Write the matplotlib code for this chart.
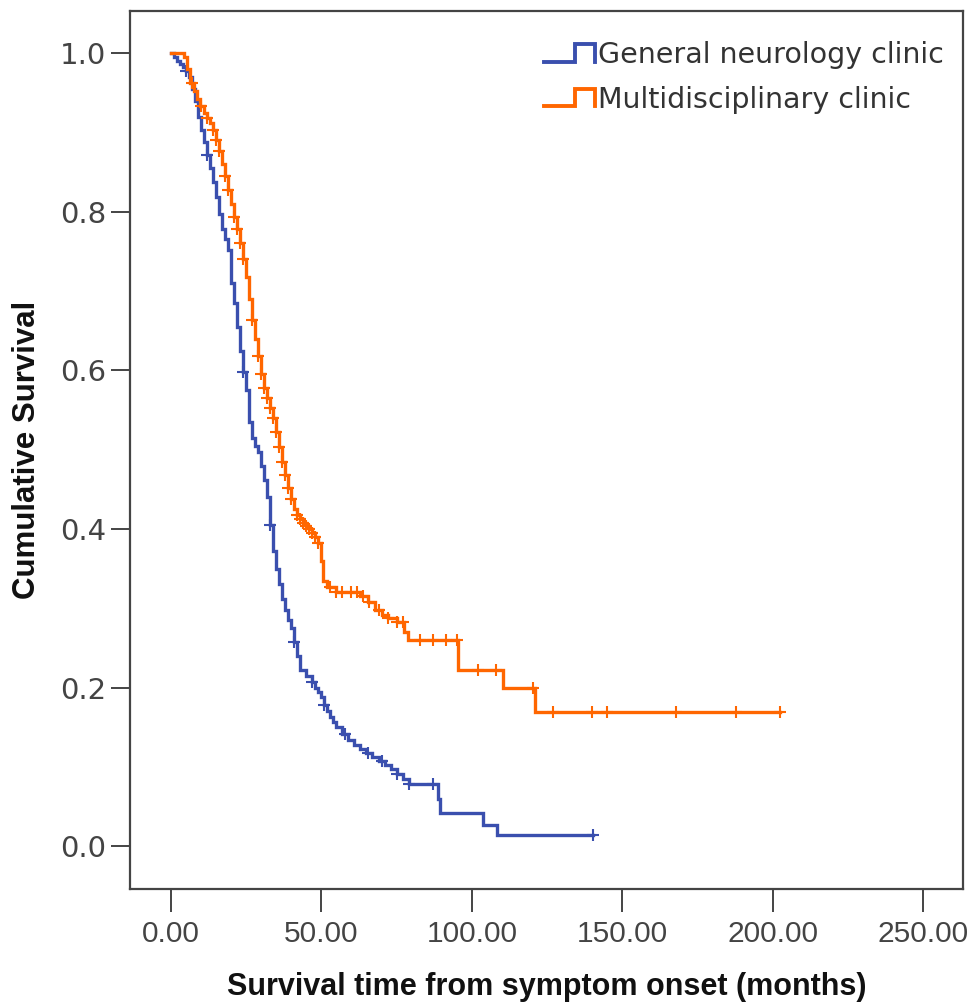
"""Kaplan-Meier style survival curves: general neurology vs multidisciplinary clinic."""
import matplotlib
matplotlib.use('Agg')
import matplotlib.pyplot as plt
import numpy as np
from matplotlib.legend_handler import HandlerBase
from matplotlib.lines import Line2D

# --- data (months, cumulative survival after each drop) ---
gen_times = [0, 1, 2, 3, 4, 5, 6, 7, 8, 9, 10, 11, 12, 13, 14, 15, 16, 17, 18, 19,
             20, 21, 22, 23, 24, 25, 26, 27, 28, 29, 30, 31, 32, 33, 34, 35, 36, 37,
             38, 39, 40, 41, 42, 43, 45, 47, 48, 49, 50, 51, 52, 53, 54, 55, 57, 59,
             61, 63, 65, 67, 69, 71, 73, 75, 77, 79, 88.8, 89.5, 103.7, 108.4]
gen_surv = [1.0, 0.995, 0.99, 0.986, 0.982, 0.977, 0.97, 0.955, 0.94, 0.92, 0.903,
            0.888, 0.872, 0.855, 0.837, 0.818, 0.797, 0.778, 0.765, 0.752, 0.71,
            0.685, 0.655, 0.625, 0.598, 0.575, 0.535, 0.515, 0.505, 0.497, 0.48,
            0.462, 0.44, 0.405, 0.372, 0.35, 0.33, 0.312, 0.298, 0.285, 0.275,
            0.258, 0.24, 0.222, 0.214, 0.207, 0.2, 0.195, 0.188, 0.178, 0.17, 0.163,
            0.156, 0.15, 0.141, 0.134, 0.127, 0.122, 0.117, 0.112, 0.108, 0.103,
            0.097, 0.091, 0.085, 0.078, 0.059, 0.042, 0.027, 0.014]
gen_end = 140.3
gen_censor = [5, 12, 24, 33, 41, 47, 51, 58, 65.5, 70, 75, 79, 87, 140.3]

mdc_times = [0, 4.5, 5.5, 6.5, 7.5, 8.5, 9.5, 11, 12, 13, 14, 15, 16, 17, 18, 19,
             20, 21, 22, 23, 24, 25, 26, 27, 28, 29, 30, 31, 32, 33, 34, 35, 36, 37,
             38, 39, 40, 41, 42, 43, 44, 45, 46, 47, 48, 49, 50, 50.5, 52, 55, 63,
             65.5, 68, 70, 72, 75, 77.5, 78.8, 95.4, 110.4, 121]
mdc_surv = [1.0, 0.995, 0.98, 0.962, 0.952, 0.942, 0.933, 0.925, 0.918, 0.912,
            0.903, 0.89, 0.877, 0.86, 0.845, 0.828, 0.81, 0.793, 0.778, 0.76, 0.74,
            0.718, 0.69, 0.663, 0.64, 0.618, 0.596, 0.578, 0.565, 0.553, 0.54,
            0.522, 0.503, 0.485, 0.468, 0.452, 0.438, 0.425, 0.418, 0.413, 0.408,
            0.404, 0.4, 0.395, 0.39, 0.382, 0.36, 0.335, 0.327, 0.32, 0.315, 0.308,
            0.298, 0.292, 0.288, 0.283, 0.27, 0.26, 0.222, 0.199, 0.169]
mdc_end = 202.5
mdc_censor = [7, 10, 12, 14, 15, 16, 18, 19, 21, 22, 23, 24, 27, 29, 30, 31, 32, 33,
              34, 35, 36, 37, 38, 39, 40, 42, 43, 44, 45, 46, 47, 48, 49, 53, 55, 57,
              60, 62, 64, 66, 69, 72, 75, 77, 82.8, 87.1, 91.4, 95.0, 102, 108,
              120.5, 127, 140, 145, 168, 188, 202.5]

labels = ['General neurology clinic', 'Multidisciplinary clinic']
colors = ['#3a4fae', '#ff6600']
x_ticks = [0, 50, 100, 150, 200, 250]
y_ticks = [0.0, 0.2, 0.4, 0.6, 0.8, 1.0]


class StepHandler(HandlerBase):
    """legend handle drawn as a little step pulse, like SPSS does"""
    def create_artists(self, legend, orig_handle, xdescent, ydescent, width, height,
                       fontsize, trans):
        x0, y0 = -xdescent, -ydescent
        xs = [x0, x0 + 0.6 * width, x0 + 0.6 * width, x0 + width, x0 + width]
        ys = [y0 + 0.1 * height, y0 + 0.1 * height, y0 + 0.9 * height,
              y0 + 0.9 * height, y0 + 0.1 * height]
        ln = Line2D(xs, ys, color=orig_handle.get_color(), lw=2.8,
                    solid_joinstyle='miter', transform=trans)
        return [ln]


def draw_km(ax, times, surv, end, censor, color):
    t = np.append(times, end)
    s = np.append(surv, surv[-1])
    ln, = ax.step(t, s, where='post', color=color, lw=2.4, solid_joinstyle='miter')
    c = np.asarray(censor)
    idx = np.searchsorted(t, c, side='right') - 1
    ax.plot(c, s[np.clip(idx, 0, len(s) - 1)], ls='none', marker='+', ms=9,
            mew=1.5, color=color)
    return ln


fig = plt.figure(figsize=(9.74, 10.05), dpi=100, facecolor='white')
ax = fig.add_axes([0.1335, 0.1154, 0.8552, 0.8736])

h1 = draw_km(ax, gen_times, gen_surv, gen_end, gen_censor, colors[0])
h2 = draw_km(ax, mdc_times, mdc_surv, mdc_end, mdc_censor, colors[1])

ax.set_xlim(-13.6, 263.3)
ax.set_ylim(-0.054, 1.053)
ax.set_xticks(x_ticks)
ax.set_xticklabels([f'{v:.2f}' for v in x_ticks], fontsize=21.5, color='#444444',
                   family=['Liberation Sans', 'DejaVu Sans'])
ax.set_yticks(y_ticks)
ax.set_yticklabels([f'{v:.1f}' for v in y_ticks], fontsize=21, color='#444444',
                   family=['DejaVu Sans'])
ax.tick_params(axis='x', length=16.5, width=1.4, color='#444444', pad=6)
ax.tick_params(axis='y', length=14, width=1.4, color='#444444', pad=3)
for sp in ax.spines.values():
    sp.set_color('#444444'); sp.set_linewidth(1.6)

ax.set_xlabel('Survival time from symptom onset (months)', fontsize=22,
              fontweight='bold', color='#111111', labelpad=17,
              family=['Liberation Sans', 'DejaVu Sans'])
ax.set_ylabel('Cumulative Survival', fontsize=22.5, fontweight='bold', color='#111111',
              labelpad=13, family=['Liberation Sans', 'DejaVu Sans'])

ax.legend([h1, h2], labels, handler_map={Line2D: StepHandler()}, loc='upper right',
          bbox_to_anchor=(1.008, 0.995), frameon=False, handlelength=1.8,
          handleheight=0.8, handletextpad=0.1, labelspacing=0.58,
          prop={'size': 20.5, 'family': ['DejaVu Sans']}, labelcolor='#333333')

fig.savefig('out.png', dpi=100, facecolor='white')
